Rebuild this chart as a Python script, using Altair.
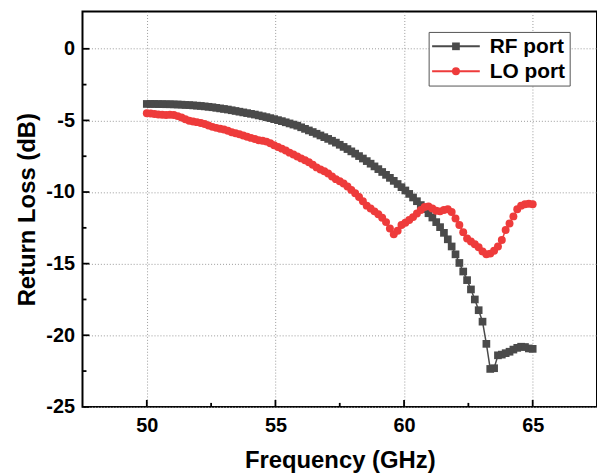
import altair as alt
import pandas as pd

# ---------------- data ----------------
freq = [round(50 + 0.15 * i, 2) for i in range(101)]  # sweep 50–65 GHz

rf_port = [
    -3.85, -3.85, -3.85, -3.86, -3.86, -3.87, -3.87, -3.88, -3.89, -3.90, -3.92,
    -3.93, -3.95, -3.97, -3.99, -4.02, -4.05, -4.08, -4.12, -4.16, -4.20,
    -4.24, -4.29, -4.34, -4.39, -4.44, -4.49, -4.54, -4.59, -4.65, -4.71,
    -4.77, -4.84, -4.91, -4.98, -5.05, -5.13, -5.21, -5.29, -5.37, -5.48,
    -5.59, -5.70, -5.81, -5.93, -6.05, -6.17, -6.29, -6.42, -6.55, -6.70,
    -6.85, -7.00, -7.16, -7.32, -7.49, -7.66, -7.84, -8.02, -8.21, -8.40,
    -8.60, -8.80, -9.01, -9.22, -9.44, -9.66, -9.89, -10.13, -10.38, -10.64,
    -10.91, -11.19, -11.48, -11.78, -12.10, -12.45, -12.85, -13.30, -13.80, -14.35,
    -14.95, -15.55, -16.15, -16.80, -17.50, -18.25, -19.05, -20.60, -22.35, -22.30,
    -21.40, -21.35, -21.25, -21.15, -21.00, -20.88, -20.80, -20.82, -20.92, -20.95,
]

lo_port = [
    -4.50, -4.52, -4.55, -4.58, -4.60, -4.62, -4.60, -4.62, -4.70, -4.80, -4.92,
    -5.02, -5.08, -5.12, -5.18, -5.25, -5.35, -5.45, -5.52, -5.58, -5.64,
    -5.72, -5.82, -5.90, -5.97, -6.05, -6.14, -6.22, -6.30, -6.38, -6.42,
    -6.48, -6.60, -6.74, -6.85, -6.97, -7.10, -7.25, -7.38, -7.52, -7.65,
    -7.78, -7.92, -8.10, -8.28, -8.42, -8.55, -8.70, -8.92, -9.10, -9.25,
    -9.40, -9.62, -9.85, -10.08, -10.35, -10.65, -10.95, -11.15, -11.35, -11.55,
    -11.80, -12.10, -12.55, -12.95, -12.70, -12.30, -12.15, -11.95, -11.75, -11.50,
    -11.25, -11.05, -11.00, -11.15, -11.30, -11.35, -11.25, -11.20, -11.40, -11.85,
    -12.30, -12.80, -13.25, -13.45, -13.65, -13.85, -14.15, -14.35, -14.30, -14.10,
    -13.80, -13.35, -12.65, -12.20, -11.70, -11.20, -10.95, -10.85, -10.82, -10.85,
]

series_names = ["RF port", "LO port"]
series_values = [rf_port, lo_port]
series_colors = ["#4a4a4a", "#ee3b3b"]
series_shapes = ["square", "circle"]
series_sizes = [60, 64]

x_major = [50, 55, 60, 65]
x_minor = [52.5, 57.5, 62.5]
y_major = [0, -5, -10, -15, -20, -25]
y_minor = [-2.5, -7.5, -12.5, -17.5, -22.5]

x_title = "Frequency (GHz)"
y_title = "Return Loss (dB)"

# ---------------- chart ----------------
W, H = 518, 398
FONT = "Liberation Sans"

xscale = alt.Scale(domain=[47.5, 67.5], nice=False, zero=False)
yscale = alt.Scale(domain=[-25, 2.6], nice=False, zero=False)

x_axis = alt.Axis(
    title=x_title, values=x_major, grid=True, ticks=False, tickSize=0, domain=False,
    labelPadding=9, labelExpr="'' + datum.value",
    titleX=W / 2, titleY=61, titleBaseline="alphabetic",
)
y_axis = alt.Axis(
    title=y_title, values=y_major, grid=True, ticks=False, tickSize=0, domain=False,
    labelPadding=8, labelExpr="'' + datum.value",
    titleX=-48, titleY=H / 2, titleBaseline="alphabetic",
)

layers = []
for i, (name, vals) in enumerate(zip(series_names, series_values)):
    d = pd.DataFrame({"freq": freq, "rl": vals})
    base = alt.Chart(d).encode(
        x=alt.X("freq:Q", scale=xscale, axis=x_axis),
        y=alt.Y("rl:Q", scale=yscale, axis=y_axis),
    )
    layers.append(base.mark_line(color=series_colors[i], strokeWidth=1.5))
    layers.append(base.mark_point(shape=series_shapes[i], filled=True, opacity=1,
                                  size=series_sizes[i], color=series_colors[i]))

# inward ticks on bottom and left spines
def xticks(vals, length, width):
    return alt.Chart(pd.DataFrame({"freq": vals})).mark_rule(
        color="black", strokeWidth=width
    ).encode(x=alt.X("freq:Q", scale=xscale, axis=x_axis), y=alt.value(H), y2=alt.value(H - length))

def yticks(vals, length, width):
    return alt.Chart(pd.DataFrame({"rl": vals})).mark_rule(
        color="black", strokeWidth=width
    ).encode(y=alt.Y("rl:Q", scale=yscale, axis=y_axis), x=alt.value(0), x2=alt.value(length))

layers += [xticks(x_major, 7, 1.8), xticks(x_minor, 4, 1.8),
           yticks(y_major, 7, 1.8), yticks(y_minor, 4, 1.8)]

# legend box (custom, to show line + marker symbols)
one = pd.DataFrame({"k": [0]})
layers.append(alt.Chart(one).mark_rect(fill="white", stroke="#555555", strokeWidth=1).encode(
    x=alt.value(349), x2=alt.value(491), y=alt.value(21), y2=alt.value(75)))
for i, name in enumerate(series_names):
    yy = 35 + 25 * i
    layers.append(alt.Chart(one).mark_rule(color=series_colors[i], strokeWidth=2).encode(
        x=alt.value(352), x2=alt.value(400), y=alt.value(yy)))
    layers.append(alt.Chart(one).mark_point(shape=series_shapes[i], filled=True, opacity=1,
                                            size=series_sizes[i], color=series_colors[i]).encode(
        x=alt.value(376), y=alt.value(yy)))
    layers.append(alt.Chart(one).mark_text(align="left", baseline="middle", font=FONT,
                                           fontWeight="bold", fontSize=21, color="black").encode(
        x=alt.value(410), y=alt.value(yy + 1), text=alt.value(name)))

chart = alt.layer(*layers).properties(
    width=W, height=H,
    autosize=alt.AutoSizeParams(type="none"),
    padding={"left": 75, "top": 2, "right": 0, "bottom": 68},
).configure_view(
    stroke="black", strokeWidth=2
).configure_axis(
    labelFont=FONT, labelFontWeight="bold", labelFontSize=20, labelColor="black",
    titleFont=FONT, titleFontWeight="bold", titleFontSize=24, titleColor="black",
    gridColor="#9a9a9a", gridDash=[1, 2], gridWidth=1, gridOpacity=1,
)

chart.save("out.html", embed_options={"renderer": "svg", "actions": False})
